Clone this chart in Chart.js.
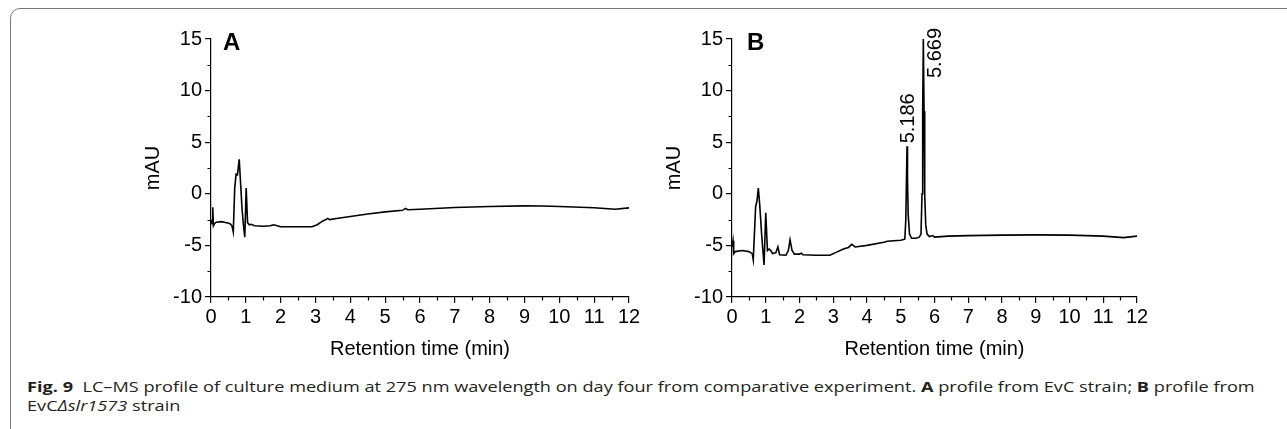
<!DOCTYPE html>
<html>
<head>
<meta charset="utf-8">
<script src="https://cdn.jsdelivr.net/npm/chart.js@4.4.1/dist/chart.umd.min.js"></script>
<style>
  body { margin: 0; width: 1287px; height: 429px; overflow: hidden; background: #fff; position: relative; }
  .frame { position: absolute; left: 10px; top: 8px; width: 1300px; height: 440px;
           border: 1.5px solid #7a7a7a; border-radius: 10px; box-sizing: border-box; }
  .panel { position: absolute; top: 0; width: 530px; height: 368px; }
  #wrapA { left: 120px; }
  #wrapB { left: 641px; }
  .caption { position: absolute; left: 27px; top: 377px; font-family: "Open Sans", sans-serif;
             font-size: 15px; line-height: 19px; color: #231f20; white-space: nowrap;
             transform: scaleX(1.21); transform-origin: 0 0; }
  .caption b { font-weight: 700; }
</style>
</head>
<body>
<div class="frame"></div>
<div class="panel" id="wrapA"><canvas id="chartA" width="530" height="368"></canvas></div>
<div class="panel" id="wrapB"><canvas id="chartB" width="530" height="368"></canvas></div>
<div class="caption">
  <b>Fig. 9</b>&nbsp; LC–MS profile of culture medium at 275 nm wavelength on day four from comparative experiment. <b>A</b> profile from EvC strain; <b>B</b> profile from<br>
  EvC<i>Δslr1573</i> strain
</div>
<script>
// panel A: EvC strain
const timesA = [0.00, 0.03, 0.05, 0.07, 0.10, 0.15, 0.30, 0.45, 0.55, 0.60, 0.64, 0.68, 0.72, 0.76, 0.81, 0.85, 0.89, 0.93, 0.97, 1.01,
  1.05, 1.10, 1.15, 1.25, 1.50, 1.70, 1.80, 1.90, 2.00, 2.50, 2.90, 3.05, 3.20, 3.30, 3.35, 3.40, 3.60, 4.00, 4.50, 5.00,
  5.50, 5.58, 5.65, 6.00, 7.00, 8.00, 9.00, 9.50, 10.00, 11.00, 11.60, 12.00];
const valuesA = [-2.5, -2.9, -1.3, -3.1, -2.9, -2.75, -2.7, -2.8, -2.9, -3.1, -3.7, 0.5, 1.9, 1.85, 3.35, 1.0, -1.4, -3.0, -4.2, 0.55,
  -2.8, -3.0, -2.95, -3.1, -3.15, -3.1, -3.0, -3.1, -3.2, -3.2, -3.2, -3.0, -2.65, -2.5, -2.38, -2.5, -2.4, -2.2, -1.95, -1.75,
  -1.6, -1.42, -1.55, -1.5, -1.33, -1.23, -1.17, -1.18, -1.23, -1.35, -1.5, -1.36];

// panel B: EvC delta-slr1573 strain
const timesB = [0.00, 0.03, 0.05, 0.10, 0.30, 0.50, 0.60, 0.63, 0.70, 0.74, 0.78, 0.82, 0.88, 0.95, 1.00, 1.05, 1.10, 1.15, 1.20, 1.30,
  1.36, 1.41, 1.60, 1.67, 1.72, 1.78, 1.85, 2.00, 2.05, 2.10, 2.50, 2.90, 3.10, 3.30, 3.45, 3.55, 3.65, 4.00, 4.50, 4.60,
  5.00, 5.12, 5.15, 5.17, 5.186, 5.20, 5.22, 5.26, 5.32, 5.45, 5.55, 5.60, 5.63, 5.65, 5.669, 5.69, 5.71, 5.74, 5.78, 5.85,
  5.95, 6.00, 6.40, 7.00, 8.00, 9.00, 10.00, 11.00, 11.60, 12.00];
const valuesB = [-5.15, -4.55, -5.8, -5.6, -5.5, -5.6, -5.8, -6.4, -1.25, -0.7, 0.55, -1.0, -4.0, -6.9, -1.85, -5.5, -5.35, -5.5, -5.8, -5.7,
  -5.15, -5.9, -5.95, -5.5, -4.45, -5.5, -5.85, -5.85, -5.75, -5.9, -5.95, -5.95, -5.65, -5.35, -5.2, -4.9, -5.15, -5.0, -4.7, -4.6,
  -4.5, -4.4, -2.5, 1.5, 4.6, 1.5, -2.0, -3.9, -4.3, -4.3, -4.2, -3.9, 0.0, 8.0, 15, 8.0, 0.0, -3.0, -3.9, -4.15,
  -4.05, -4.2, -4.1, -4.05, -4.0, -3.98, -4.0, -4.1, -4.25, -4.1];

// peak annotations in panel B
const peakTimes = [5.186, 5.669];
const peakValues = [4.6, 15];
const peakLabels = ['5.186', '5.669'];

// axes
const xTickValues = [0, 1, 2, 3, 4, 5, 6, 7, 8, 9, 10, 11, 12];
const yTickValues = [-10, -5, 0, 5, 10, 15];
const xMinorTicks = [0.5, 1.5, 2.5, 3.5, 4.5, 5.5, 6.5, 7.5, 8.5, 9.5, 10.5, 11.5];
const yMinorTicks = [-7.5, -2.5, 2.5, 7.5, 12.5];

const FONT = 'Liberation Sans, Arial, sans-serif';

const decorPlugin = {
  id: 'decor',
  afterDraw(chart, args, opts) {
    const ctx = chart.ctx;
    const xs = chart.scales.x, ys = chart.scales.y;
    const area = chart.chartArea;
    ctx.save();
    // minor ticks
    ctx.strokeStyle = '#000';
    ctx.lineWidth = 1.2;
    ctx.beginPath();
    xMinorTicks.forEach(v => {
      const px = Math.round(xs.getPixelForValue(v)) + 0.5;
      ctx.moveTo(px, area.bottom);
      ctx.lineTo(px, area.bottom + 3.5);
    });
    yMinorTicks.forEach(v => {
      const py = Math.round(ys.getPixelForValue(v)) + 0.5;
      ctx.moveTo(area.left - 3.5, py);
      ctx.lineTo(area.left, py);
    });
    ctx.stroke();
    // panel letter
    ctx.fillStyle = '#000';
    ctx.font = 'bold 24px ' + FONT;
    ctx.textAlign = 'left';
    ctx.textBaseline = 'alphabetic';
    ctx.fillText(opts.letter, area.left + opts.letterDx, area.top + 11);
    // peak labels, rotated
    (opts.peaks || []).forEach(p => {
      const px = xs.getPixelForValue(peakTimes[p.i]);
      const py = ys.getPixelForValue(peakValues[p.i]);
      ctx.save();
      ctx.translate(px + p.dx, py + p.dy);
      ctx.rotate(-Math.PI / 2);
      ctx.font = '20px ' + FONT;
      ctx.textAlign = 'left';
      ctx.textBaseline = 'middle';
      ctx.fillText(peakLabels[p.i], 0, 0);
      ctx.restore();
    });
    ctx.restore();
  }
};

function makeChart(id, times, values, letter, letterDx, rightPad, peaks) {
  const points = times.map((t, i) => ({ x: t, y: values[i] }));
  return new Chart(document.getElementById(id), {
    type: 'line',
    data: {
      datasets: [{
        data: points,
        borderColor: '#000',
        borderWidth: 1.6,
        pointRadius: 0,
        tension: 0,
        fill: false
      }]
    },
    options: {
      responsive: false,
      animation: false,
      layout: { padding: { top: 39, right: rightPad, left: 0, bottom: 0 } },
      plugins: {
        legend: { display: false },
        tooltip: { enabled: false },
        decor: { letter: letter, letterDx: letterDx, peaks: peaks }
      },
      scales: {
        x: {
          type: 'linear',
          min: 0,
          max: 12,
          afterBuildTicks: s => { s.ticks = xTickValues.map(v => ({ value: v })); },
          afterFit: s => { s.height = 71; },
          grid: { drawOnChartArea: false, drawTicks: true, tickLength: 6, color: '#000', lineWidth: 1.2 },
          border: { color: '#000', width: 1.2 },
          ticks: { color: '#000', font: { family: FONT, size: 20 }, padding: 2, maxRotation: 0, autoSkip: false },
          title: { display: true, text: 'Retention time (min)', color: '#000',
                   font: { family: FONT, size: 20 }, padding: { top: 0, bottom: 7 } }
        },
        y: {
          min: -10,
          max: 15,
          afterBuildTicks: s => { s.ticks = yTickValues.map(v => ({ value: v })); },
          afterFit: s => { s.width = 91; },
          grid: { drawOnChartArea: false, drawTicks: true, tickLength: 6, color: '#000', lineWidth: 1.2 },
          border: { color: '#000', width: 1.2 },
          ticks: { color: '#000', font: { family: FONT, size: 20 }, padding: 3, autoSkip: false },
          title: { display: true, text: 'mAU', color: '#000',
                   font: { family: FONT, size: 20 }, padding: { top: 21, bottom: 0 } }
        }
      }
    },
    plugins: [decorPlugin]
  });
}

makeChart('chartA', timesA, valuesA, 'A', 12, 21, []);
makeChart('chartB', timesB, valuesB, 'B', 15, 34, [
  { i: 0, dx: 1, dy: -3 },
  { i: 1, dx: 12, dy: 39 }
]);
</script>
</body>
</html>
